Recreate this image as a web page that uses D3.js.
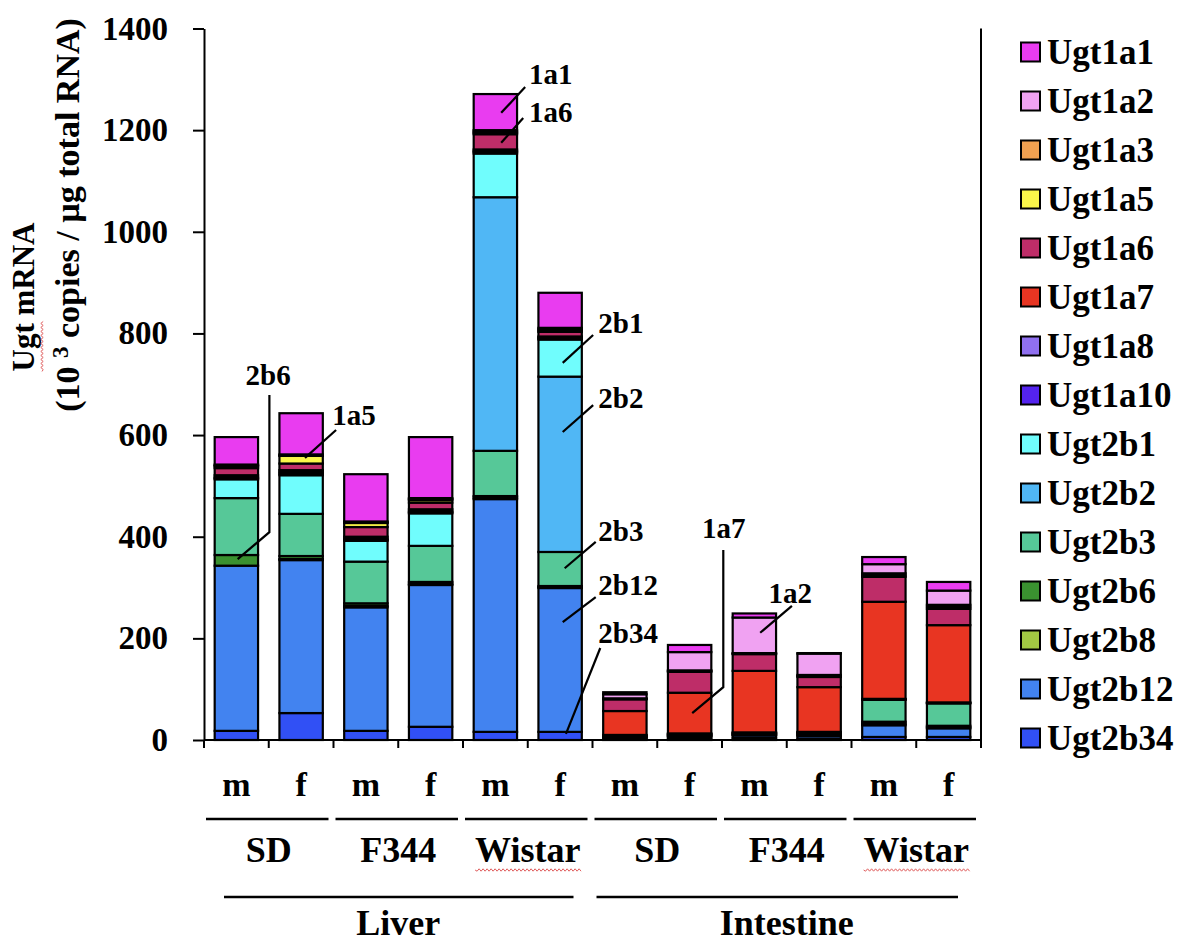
<!DOCTYPE html>
<html><head><meta charset="utf-8">
<script src="https://cdn.jsdelivr.net/npm/d3@7"></script>
<style>
body{margin:0;background:#fff}
text{font-family:"Liberation Serif","Times New Roman",serif;font-weight:bold;fill:#000}
</style>
</head><body>
<svg id="chart" width="1186" height="944"></svg>
<script>
// ---------- DATA ----------
const tissues = ["Liver", "Intestine"];
const strains = ["SD", "F344", "Wistar"];
const sexes = ["m", "f"];
const categories = [];
tissues.forEach(t => strains.forEach(s => sexes.forEach(x => categories.push(t + "|" + s + "|" + x))));

const seriesNames = ["Ugt1a1","Ugt1a2","Ugt1a3","Ugt1a5","Ugt1a6","Ugt1a7","Ugt1a8","Ugt1a10",
                     "Ugt2b1","Ugt2b2","Ugt2b3","Ugt2b6","Ugt2b8","Ugt2b12","Ugt2b34"];
const seriesColors = ["#e93cf0","#f0a2f2","#f0a050","#fbf64a","#be2d68","#e83522","#9070f0","#5423ee",
                      "#70fdfd","#50b7f5","#56c898","#3a9130","#a2c843","#4283f0","#3150f5"];

// order: Liver SD m,f | F344 m,f | Wistar m,f | Intestine SD m,f | F344 m,f | Wistar m,f
const ugt1a1  = [54, 81, 93, 120, 71, 69, 4, 14, 8, 1, 14, 17];
const ugt1a2  = [2, 2, 2, 2, 3, 3, 8, 36, 70, 42, 18, 28];
const ugt1a3  = [1, 1, 1, 2, 2, 2, 1, 1, 1, 2, 4, 4];
const ugt1a5  = [4, 15, 8, 5, 3, 3, 1, 2, 1, 2, 3, 4];
const ugt1a6  = [14, 13, 19, 13, 30, 9, 23, 41, 33, 20, 49, 32];
const ugt1a7  = [4, 4, 4, 4, 3, 2, 47, 80, 121, 88, 191, 152];
const ugt1a8  = [2, 3, 2, 2, 2, 2, 0, 0, 0, 0, 0, 0];
const ugt1a10 = [2, 3, 2, 2, 3, 2, 0, 1, 1, 1, 0, 0];
const ugt2b1  = [37, 76, 41, 64, 86, 73, 1, 1, 1, 1, 1, 1];
const ugt2b2  = [0, 0, 0, 0, 499, 345, 0, 0, 0, 0, 1, 1];
const ugt2b3  = [112, 83, 82, 71, 89, 67, 2, 2, 2, 2, 43, 44];
const ugt2b6  = [21, 6, 5, 4, 3, 2, 1, 1, 1, 2, 4, 3];
const ugt2b8  = [0, 2, 3, 2, 3, 2, 1, 1, 1, 2, 3, 2];
const ugt2b12 = [325, 301, 243, 279, 458, 283, 3, 4, 5, 5, 23, 17];
const ugt2b34 = [18, 53, 18, 26, 16, 16, 2, 3, 4, 3, 6, 6];

const yTicks = [0, 200, 400, 600, 800, 1000, 1200, 1400];

const seriesValues = {
  Ugt1a1: ugt1a1, Ugt1a2: ugt1a2, Ugt1a3: ugt1a3, Ugt1a5: ugt1a5, Ugt1a6: ugt1a6,
  Ugt1a7: ugt1a7, Ugt1a8: ugt1a8, Ugt1a10: ugt1a10, Ugt2b1: ugt2b1, Ugt2b2: ugt2b2,
  Ugt2b3: ugt2b3, Ugt2b6: ugt2b6, Ugt2b8: ugt2b8, Ugt2b12: ugt2b12, Ugt2b34: ugt2b34
};

// annotations: label, label anchor (fractional bar index, value), leader polyline points
const annotations = [
  {t:"2b6",  anchor:"middle", lx:0.49, lv:698, pts:[[0.51,679],[0.51,409],[0.02,356]]},
  {t:"1a5",  anchor:"start",  lx:1.48, lv:620, pts:[[1.54,610],[1.06,555]]},
  {t:"1a1",  anchor:"start",  lx:4.52, lv:1291, pts:[[4.46,1285],[4.09,1234]]},
  {t:"1a6",  anchor:"start",  lx:4.52, lv:1217, pts:[[4.43,1224],[4.09,1175]]},
  {t:"2b1",  anchor:"start",  lx:5.59, lv:801, pts:[[5.51,797],[5.04,742]]},
  {t:"2b2",  anchor:"start",  lx:5.59, lv:653, pts:[[5.51,659],[5.04,606]]},
  {t:"2b3",  anchor:"start",  lx:5.59, lv:392, pts:[[5.55,390],[5.07,338]]},
  {t:"2b12", anchor:"start",  lx:5.59, lv:285, pts:[[5.55,281],[5.04,232]]},
  {t:"2b34", anchor:"start",  lx:5.59, lv:191, pts:[[5.62,181],[5.09,12]]},
  {t:"1a7",  anchor:"start",  lx:7.19, lv:397, pts:[[7.52,374],[7.52,104],[7.04,53]]},
  {t:"1a2",  anchor:"start",  lx:8.22, lv:270, pts:[[8.58,264],[8.09,211]]}
];

// ---------- CHART ----------
const svg = d3.select("#chart");
const plotLeft = 204, plotRight = 981, plotTop = 28.5, plotBottom = 740;

const x = d3.scaleBand().domain(categories).range([plotLeft, plotRight]).paddingInner(0.33).paddingOuter(0.165);
const y = d3.scaleLinear().domain([0, 1400]).range([plotBottom, plotTop]);
const step = x.step();
const xf = f => plotLeft + step * (f + 0.5);

const color = d3.scaleOrdinal().domain(seriesNames).range(seriesColors);

const rows = categories.map((c, i) => {
  const r = {cat: c};
  seriesNames.forEach(s => r[s] = seriesValues[s][i]);
  return r;
});
const stackKeys = seriesNames.slice().reverse();
const stacked = d3.stack().keys(stackKeys)(rows);

const g = svg.append("g");
stacked.forEach(layer => {
  g.append("g").selectAll("rect").data(layer).join("rect")
    .attr("x", d => x(d.data.cat))
    .attr("width", x.bandwidth())
    .attr("y", d => y(d[1]))
    .attr("height", d => Math.max(0, y(d[0]) - y(d[1])))
    .attr("fill", color(layer.key))
    .attr("stroke", "#000")
    .attr("stroke-width", 2.2);
});

// Y axis
const yAxis = d3.axisLeft(y).tickValues(yTicks).tickFormat(d3.format("d"))
  .tickSize(11).tickSizeOuter(0).tickPadding(25);
const ya = svg.append("g").attr("transform", `translate(${plotLeft},0)`).call(yAxis);
ya.select(".domain").attr("stroke", "#000").attr("stroke-width", 2);
ya.selectAll(".tick line").attr("stroke", "#000").attr("stroke-width", 2);
ya.selectAll(".tick text").style("font-size", "33px").style("font-family", '"Liberation Serif",serif')
  .style("font-weight", "bold").attr("fill", "#000");

// bottom axis line + ticks at boundaries, right frame
svg.append("line").attr("x1", plotLeft).attr("x2", plotRight).attr("y1", plotBottom).attr("y2", plotBottom)
  .attr("stroke", "#000").attr("stroke-width", 2);
svg.append("line").attr("x1", plotRight).attr("x2", plotRight).attr("y1", plotTop).attr("y2", plotBottom)
  .attr("stroke", "#000").attr("stroke-width", 2);
d3.range(categories.length + 1).forEach(i => {
  const xx = plotLeft + i * step;
  svg.append("line").attr("x1", xx).attr("x2", xx).attr("y1", plotBottom).attr("y2", plotBottom + 8)
    .attr("stroke", "#000").attr("stroke-width", 2);
});

// sex labels
categories.forEach(c => {
  svg.append("text").attr("x", x(c) + x.bandwidth() / 2).attr("y", 796)
    .attr("text-anchor", "middle").style("font-size", "34px").text(c.split("|")[2]);
});
// strain labels + lines
const wavy = (x1, x2, yy) => {
  let p = `M${x1},${yy}`;
  for (let xx = x1, k = 0; xx < x2; xx += 2, k++) p += `L${xx + 2},${yy + (k % 2 ? -1.2 : 1.2)}`;
  return p;
};
for (let p = 0; p < 6; p++) {
  const x0 = plotLeft + p * 2 * step, x1 = x0 + 2 * step;
  svg.append("line").attr("x1", x0 + 2).attr("x2", x1 - 5).attr("y1", 819).attr("y2", 819)
    .attr("stroke", "#000").attr("stroke-width", 2.5);
  const st = strains[p % 3];
  const tx = svg.append("text").attr("x", (x0 + x1) / 2).attr("y", 862)
    .attr("text-anchor", "middle").style("font-size", "36px").text(st);
  if (st === "Wistar") {
    const w = tx.node().getComputedTextLength();
    svg.append("path").attr("d", wavy((x0 + x1) / 2 - w / 2, (x0 + x1) / 2 + w / 2, 870))
      .attr("fill", "none").attr("stroke", "#e06060").attr("stroke-width", 1);
  }
}
// tissue labels + lines
tissues.forEach((t, k) => {
  const x0 = plotLeft + k * 6 * step, x1 = x0 + 6 * step;
  svg.append("line").attr("x1", x0 + 20 - k * 16).attr("x2", x1 - 19 - k * 4).attr("y1", 897).attr("y2", 897)
    .attr("stroke", "#000").attr("stroke-width", 2.5);
  svg.append("text").attr("x", (x0 + x1) / 2).attr("y", 935)
    .attr("text-anchor", "middle").style("font-size", "36px").text(t);
});

// y axis title
const t1 = svg.append("text").attr("transform", "translate(34,297) rotate(-90)")
  .attr("text-anchor", "middle").style("font-size", "31px").text("Ugt mRNA");
const t2 = svg.append("text").attr("transform", "translate(79,215) rotate(-90)")
  .attr("text-anchor", "middle").style("font-size", "34px");
t2.append("tspan").text("(10 ");
t2.append("tspan").attr("dy", -11).style("font-size", "23px").text("3");
t2.append("tspan").attr("dy", 11).text(" copies / µg total RNA)");

// red wavy under "Ugt"
{
  const tmp = svg.append("text").style("font-size", "31px").text("Ugt mRNA");
  const wAll = tmp.node().getComputedTextLength();
  const tmp2 = svg.append("text").style("font-size", "31px").text("Ugt");
  const wU = tmp2.node().getComputedTextLength();
  tmp.remove(); tmp2.remove();
  const start = 297 + wAll / 2;
  svg.append("path").attr("d", wavy(0, wU, 0)).attr("transform", `translate(42,${start}) rotate(-90)`)
    .attr("fill", "none").attr("stroke", "#e06060").attr("stroke-width", 1);
}

// legend
seriesNames.forEach((s, i) => {
  const cy = 52 + i * 49;
  svg.append("rect").attr("x", 1021).attr("y", cy - 9.5).attr("width", 19).attr("height", 19)
    .attr("fill", color(s)).attr("stroke", "#000").attr("stroke-width", 2);
  svg.append("text").attr("x", 1047).attr("y", cy + 12).style("font-size", "35px").text(s);
});

// annotations
annotations.forEach(a => {
  svg.append("text").attr("x", xf(a.lx)).attr("y", y(a.lv)).attr("text-anchor", a.anchor)
    .style("font-size", "29px").text(a.t);
  svg.append("path").attr("d", d3.line()(a.pts.map(p => [xf(p[0]), y(p[1])])))
    .attr("fill", "none").attr("stroke", "#000").attr("stroke-width", 2.2);
});
</script>
</body></html>
